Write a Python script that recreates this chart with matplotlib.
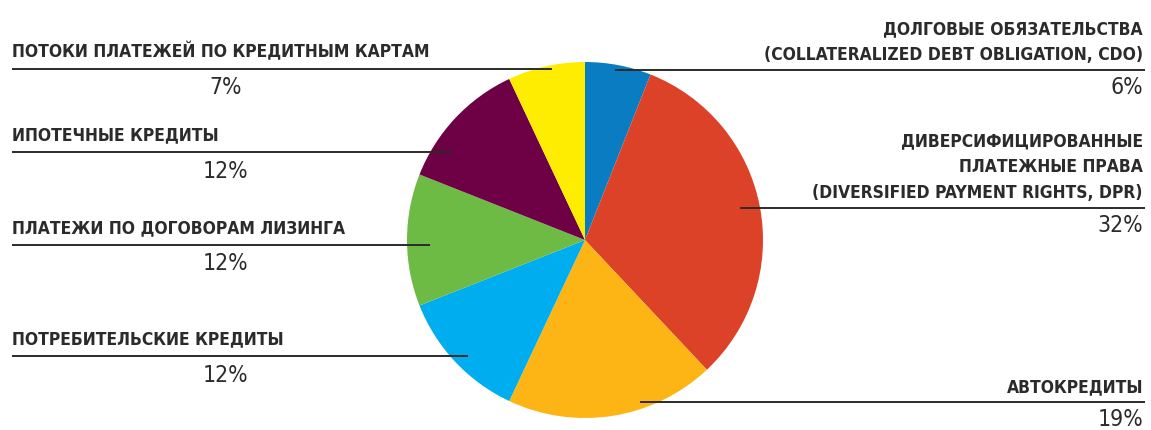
import matplotlib
matplotlib.use("Agg")
import matplotlib.pyplot as plt

# ─────────────────────────────────────────────────────────────────────────────
# Data
# ─────────────────────────────────────────────────────────────────────────────
segments = [
    "ДОЛГОВЫЕ ОБЯЗАТЕЛЬСТВА\n(COLLATERALIZED DEBT OBLIGATION, CDO)",
    "ДИВЕРСИФИЦИРОВАННЫЕ\nПЛАТЕЖНЫЕ ПРАВА\n(DIVERSIFIED PAYMENT RIGHTS, DPR)",
    "АВТОКРЕДИТЫ",
    "ПОТРЕБИТЕЛЬСКИЕ КРЕДИТЫ",
    "ПЛАТЕЖИ ПО ДОГОВОРАМ ЛИЗИНГА",
    "ИПОТЕЧНЫЕ КРЕДИТЫ",
    "ПОТОКИ ПЛАТЕЖЕЙ ПО КРЕДИТНЫМ КАРТАМ",
]
shares = [6, 32, 19, 12, 12, 12, 7]
colors = ["#0A7DC2", "#DC4227", "#FDB515", "#00AEEF", "#6DBB45", "#6E0046", "#FFED00"]

# label layout in pixel coordinates (y from top): side, line y, line inner x
label_side = ["right", "right", "right", "left", "left", "left", "left"]
line_y     = [70, 208, 402, 356, 245, 152, 69]
line_x_in  = [615, 740, 640, 468, 430, 452, 552]

W, H = 1151, 430
CX, CY, R = 585, 240, 178
FONT = ["DejaVu Sans", "Liberation Sans"]
INK = "#2b2b2b"

fig = plt.figure(figsize=(W / 100, H / 100), dpi=100)
fig.patch.set_facecolor("white")

# ── pie in its own axes ─────────────────────────────────────────────────────
pax = fig.add_axes([(CX - R) / W, (H - CY - R) / H, 2 * R / W, 2 * R / H])
pax.pie(shares, colors=colors, startangle=90, counterclock=False,
        radius=1.0, wedgeprops=dict(linewidth=0))
pax.set_xlim(-1, 1)
pax.set_ylim(-1, 1)
pax.set_aspect("auto")
pax.axis("off")

# ── overlay in pixel coordinates ────────────────────────────────────────────
ax = fig.add_axes([0, 0, 1, 1], facecolor="none")
ax.set_xlim(0, W)
ax.set_ylim(H, 0)
ax.axis("off")

LEFT_X, RIGHT_X = 12, 1145
label_kw = dict(family=FONT, fontweight="bold", fontstretch="condensed",
                fontsize=12.5, color=INK, linespacing=1.55)
pct_kw = dict(family=FONT, fontstretch="condensed", fontsize=16.5, color=INK,
              va="center")

for name, pct, side, ly, lx in zip(segments, shares, label_side, line_y, line_x_in):
    if side == "left":
        ax.plot([LEFT_X, lx], [ly, ly], color=INK, lw=1.4, solid_capstyle="butt")
        ax.text(LEFT_X, ly - 8, name, ha="left", va="bottom", **label_kw)
        ax.text(226, ly + 19, f"{pct}%", ha="center", **pct_kw)
    else:
        ax.plot([lx, RIGHT_X], [ly, ly], color=INK, lw=1.4, solid_capstyle="butt")
        ax.text(RIGHT_X - 2, ly - 6, name, ha="right", va="bottom",
                multialignment="right", **label_kw)
        ax.text(RIGHT_X - 2, ly + 17, f"{pct}%", ha="right", **pct_kw)

fig.savefig("out.png", dpi=100, facecolor="white")
